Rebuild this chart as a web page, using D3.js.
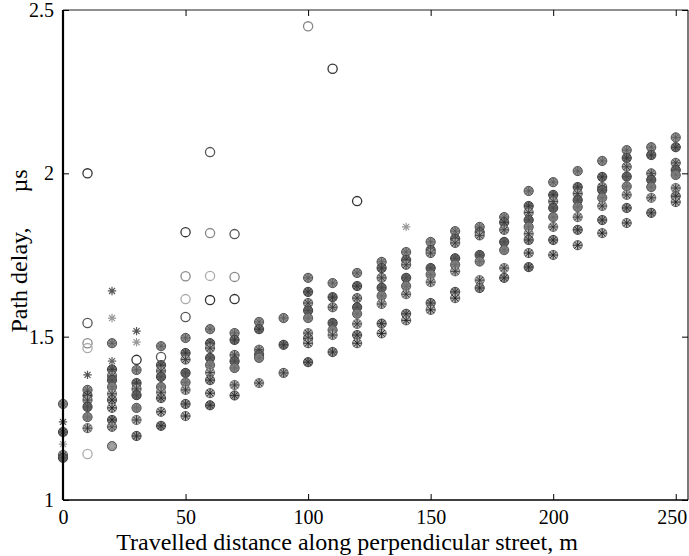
<!DOCTYPE html>
<html><head><meta charset="utf-8">
<script src="https://cdn.jsdelivr.net/npm/d3@7"></script>
<style>
body{margin:0;background:#fff}
text{font-family:"Liberation Serif","Times New Roman",serif;fill:#000}
</style>
</head><body>
<svg id="c" width="689" height="556"></svg>
<script>
const _ = null;
const distances = [0,10,20,30,40,50,60,70,80,90,100,110,120,130,140,150,160,170,180,190,200,210,220,230,240,250];
const xTicks = [0,50,100,150,200,250];
const yTicks = [1,1.5,2,2.5];
const yTickLabels = ["1","1.5","2","2.5"];
const xLabel = "Travelled distance along perpendicular street, m";
const yLabelMain = "Path delay,";
const yLabelUnit = "\u00B5s";

// filled (circle + asterisk) series
const F1 = [1.294,1.337,1.48,1.398,1.471,1.496,1.523,1.511,1.545,1.557,1.68,1.664,1.695,1.729,1.759,1.79,1.823,1.836,1.866,1.946,1.973,2.007,2.038,2.071,2.08,2.11];
const F2 = [1.208,1.32,1.40,1.358,1.413,1.45,1.48,1.49,1.523,1.475,1.637,1.621,1.655,1.71,1.735,1.765,1.80,1.82,1.85,1.90,1.934,1.958,1.989,2.047,2.056,2.08];
const F3 = [1.138,1.306,1.38,1.34,1.395,1.43,1.465,1.444,1.46,1.389,1.603,1.59,1.618,1.68,1.72,1.756,1.787,1.81,1.827,1.88,1.914,1.938,1.958,2.02,2.0,2.032];
const F4 = [1.129,1.285,1.367,1.321,1.377,1.389,1.435,1.425,1.445,_,1.58,1.542,1.59,1.65,1.68,1.71,1.74,1.75,1.79,1.857,1.894,1.918,1.949,1.99,1.98,2.01];
const F5 = [_,1.254,1.346,1.282,1.346,1.36,1.413,1.404,1.435,_,1.557,1.52,1.57,1.625,1.655,1.69,1.72,1.73,1.765,1.836,1.866,1.897,1.925,1.96,1.958,1.995];
const F6 = [_,1.22,1.325,1.245,1.33,1.337,1.39,1.352,1.358,_,1.511,1.505,1.539,1.60,1.63,1.667,1.70,1.673,1.71,1.815,1.836,1.866,1.90,1.934,1.925,1.955];
const F7 = [_,_,1.306,1.196,1.312,1.294,1.367,1.32,_,_,1.495,1.453,1.505,1.54,1.57,1.603,1.637,1.649,1.68,1.796,1.796,1.827,1.857,1.894,1.879,1.93];
const F8 = [_,_,1.282,_,1.27,1.257,1.327,_,_,_,1.48,_,1.48,1.51,1.55,1.582,1.618,_,_,1.756,1.75,1.78,1.817,1.848,_,1.912];
const F9 = [_,_,1.245,_,1.227,_,1.29,_,_,_,1.422,_,_,_,_,_,_,_,_,1.713,_,_,_,_,_,_];
const F10 = [_,_,1.224,_,_,_,_,_,_,_,_,_,_,_,_,_,_,_,_,_,_,_,_,_,_,_];
const F11 = [_,_,1.165,_,_,_,_,_,_,_,_,_,_,_,_,_,_,_,_,_,_,_,_,_,_,_];

// asterisk-only series
const S1 = [1.239,1.383,1.64,1.517,_,_,_,_,_,_,_,_,_,_,_,_,_,_,_,_,_,_,_,_,_,_];
const S2 = [1.171,_,1.557,1.483,_,_,_,_,_,_,_,_,_,_,1.836,_,_,_,_,_,_,_,_,_,_,_];
const S3 = [_,_,1.425,_,_,_,_,_,_,_,_,_,_,_,_,_,_,_,_,_,_,_,_,_,_,_];

// open-circle series
const O1 = [_,2.0,_,1.429,_,1.82,1.612,1.615,_,_,_,2.32,1.915,_,_,_,_,_,_,_,_,_,_,_,_,_];
const O2 = [_,1.542,_,_,1.438,1.56,2.065,1.814,_,_,_,_,_,_,_,_,_,_,_,_,_,_,_,_,_,_];
const O3 = [_,1.48,_,_,_,1.685,1.817,1.683,_,_,2.45,_,_,_,_,_,_,_,_,_,_,_,_,_,_,_];
const O4 = [_,1.465,_,_,_,1.615,1.686,_,_,_,_,_,_,_,_,_,_,_,_,_,_,_,_,_,_,_];
const O5 = [_,1.141,_,_,_,_,_,_,_,_,_,_,_,_,_,_,_,_,_,_,_,_,_,_,_,_];

const filledSeries = [
  {v:F1, fill:"#929292", stroke:"#555", star:"#5a5a5a"},
  {v:F2, fill:"#737373", stroke:"#444", star:"#333"},
  {v:F3, fill:"#a0a0a0", stroke:"#5e5e5e", star:"#3a3a3a"},
  {v:F4, fill:"#676767", stroke:"#3d3d3d", star:"#4a4a4a"},
  {v:F5, fill:"#858585", stroke:"#585858", star:"#6a6a6a"},
  {v:F6, fill:"#adadad", stroke:"#7a7a7a", star:"#333"},
  {v:F7, fill:"#939393", stroke:"#4d4d4d", star:"#2a2a2a"},
  {v:F8, fill:"#b8b8b8", stroke:"#6a6a6a", star:"#1a1a1a"},
  {v:F9, fill:"#808080", stroke:"#4a4a4a", star:"#2a2a2a"},
  {v:F10, fill:"#a0a0a0", stroke:"#5a5a5a", star:"#4a4a4a"},
  {v:F11, fill:"#909090", stroke:"#4a4a4a", star:"#aaa"}
];
const starSeries = [
  {v:S1, color:"#555"},
  {v:S2, color:"#999"},
  {v:S3, color:"#666"}
];
const openSeries = [
  {v:O1, color:"#333"},
  {v:O2, color:"#555"},
  {v:O3, color:"#888"},
  {v:O4, color:"#aaa"},
  {v:O5, color:"#aaa"}
];

const svg = d3.select("#c");
const m = {left:63, right:688, top:10, bottom:500};
const x = d3.scaleLinear().domain([0,255]).range([m.left, m.right]);
const y = d3.scaleLinear().domain([1,2.5]).range([m.bottom, m.top]);

const pts = s => distances.map((d,i)=>({x:d, y:s.v[i]})).filter(p=>p.y!==null);
const starPath = r => {
  const a = r*0.72;
  return `M${-r},0L${r},0M0,${-r}L0,${r}M${-a},${-a}L${a},${a}M${-a},${a}L${a},${-a}`;
};

const g = svg.append("g");

filledSeries.forEach(s=>{
  const sel = g.append("g").selectAll("g").data(pts(s)).join("g")
    .attr("transform", p=>`translate(${x(p.x)},${y(p.y)})`);
  sel.append("circle").attr("r",4.6).attr("fill",s.fill).attr("stroke",s.stroke).attr("stroke-width",1);
  sel.append("path").attr("d",starPath(4.6)).attr("stroke",s.star).attr("stroke-width",0.9).attr("fill","none");
});
starSeries.forEach(s=>{
  g.append("g").selectAll("path").data(pts(s)).join("path")
    .attr("transform", p=>`translate(${x(p.x)},${y(p.y)})`)
    .attr("d",starPath(4.2)).attr("stroke",s.color).attr("stroke-width",1.2).attr("fill","none");
});
openSeries.forEach(s=>{
  g.append("g").selectAll("circle").data(pts(s)).join("circle")
    .attr("cx",p=>x(p.x)).attr("cy",p=>y(p.y)).attr("r",4.6)
    .attr("fill","none").attr("stroke",s.color).attr("stroke-width",1.3);
});

// box
svg.append("line").attr("x1",m.left).attr("x2",m.right).attr("y1",m.top).attr("y2",m.top).attr("stroke","#222").attr("stroke-width",1.2);
svg.append("line").attr("x1",m.right).attr("x2",m.right).attr("y1",m.top).attr("y2",m.bottom).attr("stroke","#222").attr("stroke-width",1.2);

const xAxis = d3.axisBottom(x).tickValues(xTicks).tickSize(-6).tickPadding(10).tickFormat(d3.format("d"));
const gx = svg.append("g").attr("transform",`translate(0,${m.bottom})`).call(xAxis);
gx.select(".domain").attr("stroke","#000").attr("stroke-width",1.6).attr("d",`M${m.left},0H${m.right}`);
gx.selectAll(".tick line").attr("stroke","#000");
gx.selectAll("text").attr("font-size",20).attr("font-family","Liberation Serif").attr("fill","#000")
  .attr("dx",(d)=>d===250?-4:0);

const xTop = d3.axisTop(x).tickValues(xTicks).tickSize(-6).tickFormat("");
const gxt = svg.append("g").attr("transform",`translate(0,${m.top})`).call(xTop);
gxt.select(".domain").remove();
gxt.selectAll(".tick line").attr("stroke","#000");

const yAxis = d3.axisLeft(y).tickValues(yTicks).tickSize(-6).tickPadding(9).tickFormat((d,i)=>yTickLabels[i]);
const gy = svg.append("g").attr("transform",`translate(${m.left},0)`).call(yAxis);
gy.select(".domain").attr("stroke","#000").attr("stroke-width",2.2).attr("d",`M0,${m.top}V${m.bottom}`);
gy.selectAll(".tick line").attr("stroke","#000");
gy.selectAll("text").attr("font-size",20).attr("font-family","Liberation Serif").attr("fill","#000");

const yRight = d3.axisRight(y).tickValues(yTicks).tickSize(-6).tickFormat("");
const gyr = svg.append("g").attr("transform",`translate(${m.right},0)`).call(yRight);
gyr.select(".domain").remove();
gyr.selectAll(".tick line").attr("stroke","#000");

svg.append("text").attr("x",347).attr("y",550).attr("text-anchor","middle")
  .attr("font-size",24).text(xLabel);
svg.append("text").attr("transform","translate(27,280) rotate(-90)").attr("text-anchor","middle")
  .attr("font-size",24).text(yLabelMain);
svg.append("text").attr("transform","translate(27,181) rotate(-90)").attr("text-anchor","middle")
  .attr("font-size",24).text(yLabelUnit);
</script>
</body></html>
